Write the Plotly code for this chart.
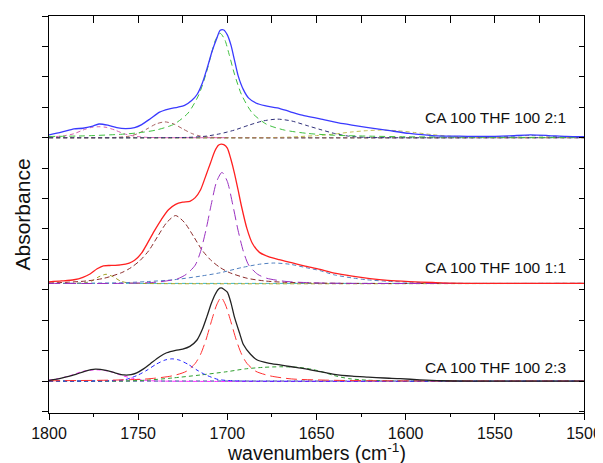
import plotly.graph_objects as go

# ---------------- data ----------------
# offsets of the three stacked spectra (y-axis units)
base_21 = 9.0
base_11 = 4.21
base_23 = 1.0

labels = ["CA 100 THF 100 2:1", "CA 100 THF 100 1:1", "CA 100 THF 100 2:3"]
label_y = [9.65, 4.73, 1.45]

x_title = "wavenumbers (cm<sup>-1</sup>)"
y_title = "Absorbance"

# ---- CA 100 THF 100 2:1 (blue) ----
t21_x = [1800,1793,1786,1781,1776,1772,1767,1762,1757,1752,1748,1743,1738,1733,1728,1724,1720,1717,1714,1711,1708.5,1706,1704,1702,1700,1698,1696,1694,1691,1688,1684,1679,1672,1665,1658,1648,1635,1622,1610,1598,1585,1570,1555,1542,1530,1520,1510,1500]
t21_y = [0.09,0.18,0.29,0.31,0.37,0.45,0.41,0.33,0.30,0.33,0.43,0.63,0.84,0.94,1.00,1.06,1.22,1.42,1.80,2.35,2.85,3.25,3.53,3.54,3.38,3.05,2.55,2.05,1.58,1.30,1.14,1.05,0.98,0.86,0.74,0.62,0.46,0.34,0.24,0.14,0.07,0.05,0.04,0.06,0.09,0.07,0.04,0.03]

g21_x = [1800,1780,1760,1750,1740,1730,1722,1716,1712,1709,1706.5,1704,1701.5,1699,1696,1692,1686,1678,1668,1655,1640,1620,1600,1570,1540,1500]
g21_y = [0.04,0.06,0.11,0.16,0.25,0.44,0.81,1.41,2.09,2.74,3.23,3.43,3.23,2.74,2.09,1.41,0.81,0.44,0.25,0.14,0.08,0.05,0.03,0.02,0.01,0.01]

p21_x = [1800,1792,1786,1781,1776,1772,1768,1763,1758,1752,1745,1735,1700]
p21_y = [0.02,0.06,0.13,0.25,0.34,0.36,0.34,0.25,0.13,0.05,0.01,0.0,0.0]

b21_x = [1800,1770,1762,1755,1750,1745,1740,1735,1730,1725,1720,1715,1708,1700,1500]
b21_y = [0.0,0.0,0.01,0.05,0.14,0.29,0.45,0.52,0.45,0.29,0.14,0.05,0.01,0.0,0.0]

n21_x = [1800,1722,1712,1704,1696,1688,1680,1672,1664,1656,1648,1640,1632,1622,1610,1500]
n21_y = [0.0,0.01,0.05,0.13,0.25,0.41,0.55,0.61,0.55,0.41,0.27,0.14,0.05,0.01,0.0,0.0]

o21_x = [1800,1680,1665,1650,1640,1630,1622,1615,1605,1595,1585,1575,1560,1545,1500]
o21_y = [0.0,0.0,0.02,0.07,0.12,0.19,0.23,0.25,0.23,0.17,0.10,0.05,0.01,0.0,0.0]

s21_x = [1800,1565,1550,1540,1530,1520,1510,1500]
s21_y = [0.0,0.0,0.02,0.05,0.07,0.05,0.02,0.01]

f21_x = [1800,1500]
f21_y = [0.0,0.0]

# ---- CA 100 THF 100 1:1 (red) ----
t11_x = [1800,1793,1786,1781,1777,1773,1769.5,1765,1760,1755,1752,1748,1745,1741,1737,1733,1729,1725,1721,1718,1715,1712,1709.5,1707,1705,1703.5,1702,1700,1698,1696,1694,1692,1689,1686,1682,1677,1671,1664,1657,1648,1640,1630,1620,1610,1598,1585,1575,1560,1500]
t11_y = [0.05,0.08,0.12,0.20,0.31,0.48,0.58,0.59,0.61,0.67,0.76,1.00,1.30,1.72,2.10,2.42,2.60,2.67,2.70,2.82,3.08,3.55,3.95,4.35,4.54,4.58,4.56,4.45,4.08,3.62,3.08,2.52,1.80,1.32,1.02,0.88,0.78,0.68,0.58,0.46,0.34,0.24,0.16,0.10,0.06,0.03,0.01,0.0,0.0]

o11_x = [1800,1785,1780,1776,1772,1768,1764,1760,1756,1750,1500]
o11_y = [0.0,0.0,0.02,0.08,0.22,0.30,0.22,0.08,0.02,0.0,0.0]

b11_x = [1800,1789,1779,1769,1759,1754,1749,1744,1739,1734,1729,1724,1719,1714,1709,1704,1699,1689,1679,1669,1654,1630,1500]
b11_y = [0.01,0.04,0.08,0.17,0.36,0.52,0.75,1.08,1.55,2.00,2.23,2.00,1.55,1.08,0.75,0.52,0.36,0.17,0.08,0.04,0.015,0.0,0.0]

v11_x = [1800,1760,1740,1728,1723,1718,1715,1712,1709,1706,1703,1700,1697,1694,1691,1688,1683,1678,1668,1653,1630,1500]
v11_y = [0.0,0.0,0.04,0.15,0.30,0.60,1.05,1.75,2.60,3.35,3.65,3.35,2.60,1.75,1.05,0.60,0.30,0.17,0.07,0.02,0.0,0.0]

s11_x = [1800,1760,1745,1730,1715,1704,1692,1682,1674,1665,1656,1648,1640,1630,1622,1610,1598,1580,1560,1500]
s11_y = [0.0,0.02,0.06,0.12,0.24,0.35,0.52,0.63,0.67,0.63,0.52,0.42,0.28,0.18,0.12,0.07,0.04,0.01,0.0,0.0]

c11_x = [1800,1500]
c11_y = [0.0,0.0]

# ---- CA 100 THF 100 2:3 (black) ----
t23_x = [1800,1793,1786,1780,1774,1768,1763,1758,1754,1750.8,1747,1743,1738,1734,1729,1725,1721,1717,1714,1711.5,1709,1707,1705,1703.5,1702,1700,1698,1696,1693,1691,1687,1683.5,1677,1670.5,1664,1657,1648,1640,1630,1621,1612,1603,1592,1580,1560,1500]
t23_y = [0.02,0.10,0.20,0.32,0.39,0.35,0.27,0.20,0.21,0.27,0.40,0.58,0.80,0.93,1.01,1.05,1.14,1.35,1.70,2.11,2.55,2.83,3.02,3.06,3.02,2.92,2.58,2.10,1.55,1.20,0.88,0.70,0.59,0.53,0.47,0.41,0.31,0.22,0.16,0.13,0.10,0.08,0.04,0.01,0.0,0.0]

m23_x = [1800,1793,1787,1781,1773.5,1766,1760,1754,1747,1738,1500]
m23_y = [0.03,0.10,0.20,0.32,0.37,0.32,0.20,0.10,0.03,0.0,0.0]

b23_x = [1800,1765,1757,1750,1745,1740,1735,1731,1727,1722,1717,1712,1705,1697,1690,1500]
b23_y = [0.0,0.01,0.05,0.20,0.36,0.55,0.69,0.73,0.69,0.55,0.36,0.20,0.05,0.01,0.0,0.0]

r23_x = [1800,1765,1745,1731,1723,1718,1715,1712,1709,1706,1703.5,1701,1698,1695,1692,1689,1684,1676,1664,1645,1620,1500]
r23_y = [0.01,0.03,0.07,0.17,0.32,0.58,0.88,1.35,1.95,2.50,2.75,2.50,1.95,1.35,0.88,0.58,0.32,0.17,0.07,0.03,0.01,0.0]

g23_x = [1800,1760,1745,1731,1715,1700,1690,1680,1670,1660,1652,1645,1640,1632,1622,1610,1600,1500]
g23_y = [0.0,0.0,0.03,0.10,0.20,0.31,0.40,0.45,0.47,0.45,0.38,0.27,0.18,0.08,0.03,0.01,0.0,0.0]

f23_x = [1800,1500]
f23_y = [0.0,0.0]

# ---------------- figure ----------------
fig = go.Figure()

def add(x, y, base, color, dash=None, width=1.0):
    fig.add_trace(go.Scatter(
        x=x, y=[base + v for v in y], mode="lines",
        line=dict(color=color, width=width, dash=dash, shape="spline", smoothing=0.7),
        showlegend=False, hoverinfo="skip"))

SD = "4px,3px"
LD = "11px,5px"

# 2:1 components
add(f21_x, f21_y, base_21, "#2b2b80", SD)
add(s21_x, s21_y, base_21, "#7a9a7a", SD)
add(o21_x, o21_y, base_21, "#c0c050", SD)
add(p21_x, p21_y, base_21, "#d860b0", SD)
add(b21_x, b21_y, base_21, "#a86060", SD)
add(n21_x, n21_y, base_21, "#30307a", SD)
add(g21_x, g21_y, base_21, "#40c040", "6px,4px")
add(t21_x, t21_y, base_21, "#3a3aff", None, 1.3)

# 1:1 components
add(c11_x, c11_y, base_11, "#40b8c0", SD)
add(o11_x, o11_y, base_11, "#a0a020", SD)
add(s11_x, s11_y, base_11, "#5080c0", SD)
add(b11_x, b11_y, base_11, "#8b2a2a", "5px,3px")
add(v11_x, v11_y, base_11, "#9a30c0", LD)
add(t11_x, t11_y, base_11, "#ff2020", None, 1.3)

# 2:3 components
add(f23_x, f23_y, base_23, "#3030a0", SD)
add(m23_x, m23_y, base_23, "#ff30ff", SD)
add(g23_x, g23_y, base_23, "#30a030", SD)
add(b23_x, b23_y, base_23, "#2020ff", SD)
add(r23_x, r23_y, base_23, "#ff3030", LD)
add(t23_x, t23_y, base_23, "#222222", None, 1.3)

# overlay axes carrier (for inward mirrored ticks)
fig.add_trace(go.Scatter(x=[None], y=[None], xaxis="x2", yaxis="y2",
                         showlegend=False, hoverinfo="skip"))

FONT = "Arial, Liberation Sans"

for txt, yy in zip(labels, label_y):
    fig.add_annotation(x=1508.8, y=yy, text=txt, showarrow=False,
                       xanchor="right", yanchor="middle",
                       font=dict(family=FONT, size=15.5, color="#111"))

# axis titles placed as paper annotations
fig.add_annotation(x=0.5, y=0, xref="paper", yref="paper", yshift=-39,
                   text=x_title, showarrow=False, xanchor="center", yanchor="middle",
                   font=dict(family=FONT, size=19.5, color="#111"))
fig.add_annotation(x=0, y=0.5, xref="paper", yref="paper", xshift=-27,
                   text=y_title, textangle=-90, showarrow=False,
                   xanchor="center", yanchor="middle",
                   font=dict(family=FONT, size=21, color="#111"))

# the page places the figure 8px from the top-left corner
fig.update_layout(
    width=595, height=455,
    margin=dict(l=41, r=19, t=8, b=50, autoexpand=False),
    plot_bgcolor="white", paper_bgcolor="white",
    font=dict(family=FONT, color="#111"),
    xaxis=dict(range=[1800, 1500], showgrid=False, zeroline=False, automargin=False,
               showline=True, linecolor="black", linewidth=1.2,
               ticks="outside", ticklen=6, tickwidth=1.2, tickcolor="black",
               tickmode="linear", tick0=1500, dtick=50,
               minor=dict(ticks="outside", ticklen=3, tickwidth=1, tickcolor="black",
                          dtick=25, tick0=1500),
               tickfont=dict(size=16, family=FONT)),
    yaxis=dict(range=[-0.05, 13.0], showgrid=False, zeroline=False, automargin=False,
               showline=True, linecolor="black", linewidth=1.2,
               ticks="outside", ticklen=6, tickwidth=1.2, tickcolor="black",
               tickmode="linear", tick0=0, dtick=1, showticklabels=False),
    xaxis2=dict(range=[1800, 1500], overlaying="x", side="top", showgrid=False,
                zeroline=False, showline=True, linecolor="black", linewidth=1.2,
                automargin=False,
                ticks="inside", ticklen=7, tickwidth=1.2, tickcolor="black",
                tickmode="linear", tick0=1500, dtick=25, showticklabels=False),
    yaxis2=dict(range=[-0.05, 13.0], overlaying="y", side="right", showgrid=False,
                zeroline=False, showline=True, linecolor="black", linewidth=1.2,
                automargin=False,
                ticks="inside", ticklen=5, tickwidth=1.2, tickcolor="black",
                tickmode="linear", tick0=0, dtick=1, showticklabels=False),
)

fig.write_html("out.html")
